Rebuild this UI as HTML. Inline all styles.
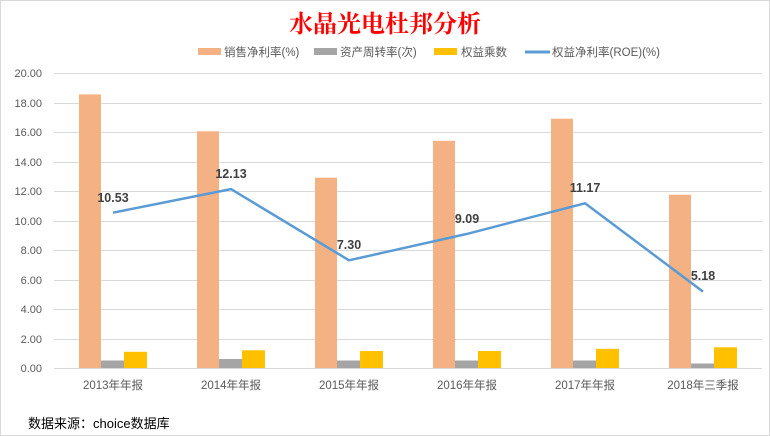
<!DOCTYPE html><html><head><meta charset="utf-8"><style>body{margin:0;background:#fff}svg{display:block}</style></head><body>
<svg width="770" height="436" xmlns="http://www.w3.org/2000/svg" font-family="'Liberation Sans','Noto Sans CJK SC',sans-serif">
<rect x="0.5" y="0.5" width="769" height="435" fill="#fff" stroke="#d9d9d9"/>
<text x="385" y="32" text-anchor="middle" font-size="24" font-weight="bold" fill="#ff0000" font-family="'Noto Serif CJK SC','Noto Sans CJK SC',serif">水晶光电杜邦分析</text>
<g font-size="11.5" fill="#595959">
<rect x="198" y="48" width="23" height="7" fill="#f4b183"/><text x="224" y="56">销售净利率(%)</text>
<rect x="314" y="48" width="23" height="7" fill="#a5a5a5"/><text x="340" y="56">资产周转率(次)</text>
<rect x="434" y="48" width="23" height="7" fill="#ffc000"/><text x="461" y="56">权益乘数</text>
<line x1="525" y1="52" x2="550" y2="52" stroke="#5b9bd5" stroke-width="3"/><text x="552" y="56">权益净利率(ROE)(%)</text>
</g>
<g stroke="#d9d9d9" stroke-width="1">
<line x1="54" x2="762" y1="73.5" y2="73.5"/><line x1="54" x2="762" y1="103.5" y2="103.5"/><line x1="54" x2="762" y1="132.5" y2="132.5"/><line x1="54" x2="762" y1="162.5" y2="162.5"/><line x1="54" x2="762" y1="191.5" y2="191.5"/><line x1="54" x2="762" y1="221.5" y2="221.5"/><line x1="54" x2="762" y1="250.5" y2="250.5"/><line x1="54" x2="762" y1="280.5" y2="280.5"/><line x1="54" x2="762" y1="309.5" y2="309.5"/><line x1="54" x2="762" y1="339.5" y2="339.5"/><line x1="54" x2="762" y1="368.5" y2="368.5"/>
</g>
<g font-size="11" fill="#595959" text-anchor="end">
<text x="42" y="77">20.00</text><text x="42" y="107">18.00</text><text x="42" y="136">16.00</text><text x="42" y="166">14.00</text><text x="42" y="195">12.00</text><text x="42" y="225">10.00</text><text x="42" y="254">8.00</text><text x="42" y="284">6.00</text><text x="42" y="313">4.00</text><text x="42" y="343">2.00</text><text x="42" y="372">0.00</text>
</g>
<g fill="#f4b183">
<rect x="79" y="94.4" width="22" height="273.6"/><rect x="197" y="131.3" width="22" height="236.7"/><rect x="315" y="177.7" width="22" height="190.3"/><rect x="433" y="140.8" width="22" height="227.2"/><rect x="551" y="118.7" width="22" height="249.3"/><rect x="669" y="194.7" width="22" height="173.3"/>
</g>
<g fill="#a5a5a5">
<rect x="101" y="360.5" width="23" height="7.5"/><rect x="219" y="359" width="23" height="9"/><rect x="337" y="360.5" width="23" height="7.5"/><rect x="455" y="360.5" width="23" height="7.5"/><rect x="573" y="360.5" width="23" height="7.5"/><rect x="691" y="363.5" width="23" height="4.5"/>
</g>
<g fill="#ffc000">
<rect x="124" y="351.8" width="23" height="16.2"/><rect x="242" y="350.3" width="23" height="17.7"/><rect x="360" y="351" width="23" height="17"/><rect x="478" y="351" width="23" height="17"/><rect x="596" y="348.8" width="23" height="19.2"/><rect x="714" y="347.3" width="23" height="20.7"/>
</g>
<polyline fill="none" stroke="#5b9bd5" stroke-width="2.5" stroke-linejoin="round" points="113,212.7 231,189.1 349,260.3 467,233.9 585,203.3 703,291.6"/>
<g font-size="12.5" font-weight="bold" fill="#404040" text-anchor="middle">
<text x="113" y="202">10.53</text><text x="231" y="178">12.13</text><text x="349" y="249">7.30</text><text x="467" y="223">9.09</text><text x="585" y="192">11.17</text><text x="703" y="280">5.18</text>
</g>
<g font-size="11.5" fill="#595959" text-anchor="middle">
<text x="113" y="389">2013年年报</text><text x="231" y="389">2014年年报</text><text x="349" y="389">2015年年报</text><text x="467" y="389">2016年年报</text><text x="585" y="389">2017年年报</text><text x="703" y="389">2018年三季报</text>
</g>
<text x="28" y="428" font-size="13" fill="#000">数据来源：choice数据库</text>
</svg></body></html>
